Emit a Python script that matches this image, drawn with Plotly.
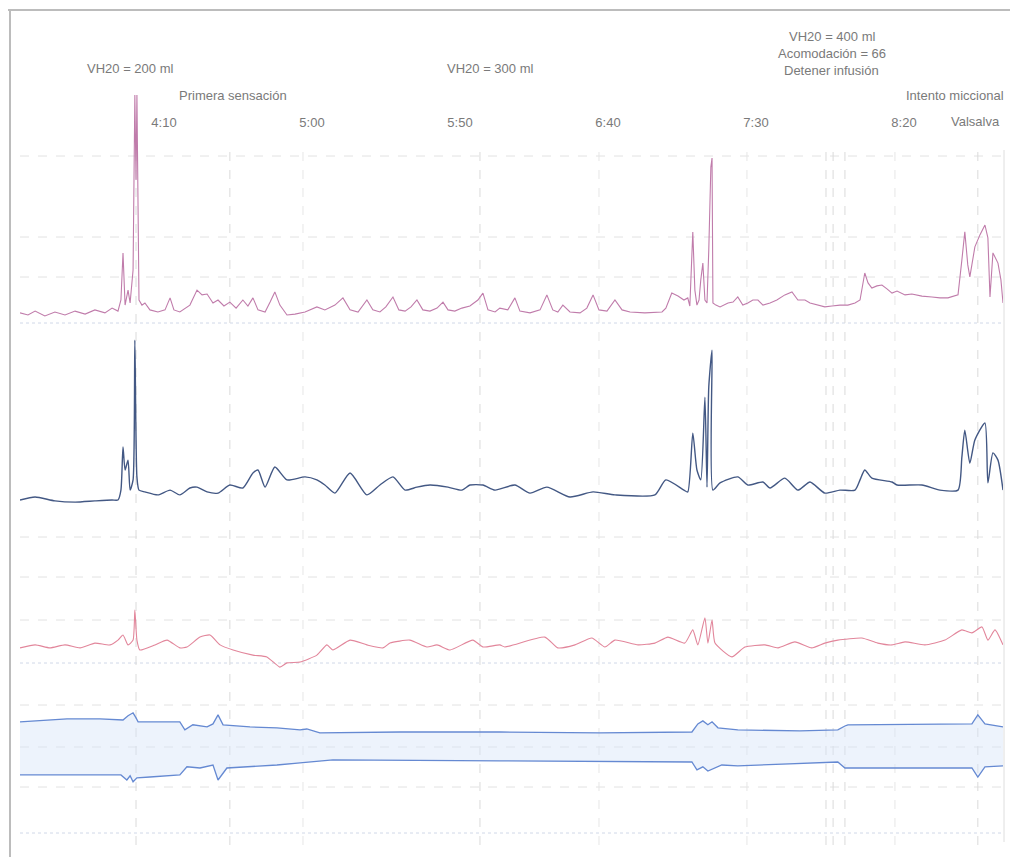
import plotly.graph_objects as go

# ---------------- data (time in s, pressures in cmH2O, EMG in arbitrary units) ----------------
TICK_T = [250, 300, 350, 400, 450, 500]
TICK_TEXT = ["4:10", "5:00", "5:50", "6:40", "7:30", "8:20"]

PVES = [(204.4, 5.7), (207.1, 5.0), (209.5, 6.3), (212.8, 4.7), (216.2, 6.0), (219.6, 5.0), (223.0, 6.3),
        (226.4, 5.3), (229.7, 6.7), (233.1, 5.7), (235.5, 7.3), (237.5, 6.3), (238.5, 10.0), (239.2, 25.7),
        (239.9, 8.3), (240.9, 13.3), (241.6, 9.0), (242.6, 20.0), (243.2, 78.3), (243.6, 50.0), (243.9, 78.3),
        (244.6, 10.0), (245.6, 8.3), (246.6, 9.0), (248.3, 6.7), (251.0, 6.0), (253.4, 6.7), (255.1, 10.7),
        (256.4, 6.7), (258.4, 6.0), (261.8, 8.3), (264.2, 13.3), (265.9, 11.7), (267.6, 12.0), (269.6, 9.0),
        (271.3, 10.0), (273.3, 8.0), (275.3, 9.3), (277.4, 7.3), (279.7, 10.0), (281.4, 8.0), (283.1, 10.7),
        (284.8, 6.7), (287.2, 6.0), (288.9, 9.3), (290.5, 12.7), (292.2, 8.3), (294.6, 5.0), (297.3, 5.3),
        (300.7, 6.0), (304.7, 7.7), (307.4, 6.7), (310.8, 8.3), (313.5, 10.7), (315.9, 6.7), (318.6, 6.0),
        (321.6, 10.0), (323.6, 6.7), (326.0, 6.0), (328.0, 7.7), (330.4, 11.0), (332.4, 6.7), (334.5, 6.3),
        (336.5, 7.7), (338.5, 10.0), (340.5, 6.7), (342.9, 6.3), (345.3, 7.3), (347.3, 9.3), (349.0, 6.7),
        (351.3, 6.3), (353.7, 7.3), (356.4, 8.0), (359.1, 10.0), (360.8, 12.3), (362.5, 6.7), (364.9, 6.0),
        (366.5, 7.3), (369.2, 6.7), (371.6, 10.7), (373.3, 6.3), (376.7, 5.7), (380.1, 6.7), (382.4, 11.7),
        (384.4, 6.7), (386.1, 6.0), (387.8, 8.3), (390.2, 6.0), (393.6, 5.7), (395.9, 7.3), (398.0, 11.7),
        (400.0, 6.7), (402.7, 6.3), (405.4, 10.0), (407.8, 6.7), (410.5, 6.0), (415.5, 5.7), (418.9, 6.0),
        (421.3, 6.0), (422.6, 7.3), (424.6, 12.3), (426.7, 11.3), (428.7, 10.0), (430.0, 10.7), (430.7, 8.0),
        (431.7, 32.7), (432.4, 13.3), (433.1, 8.3), (433.8, 10.0), (434.4, 16.7), (435.1, 22.3), (435.8, 10.0),
        (436.5, 9.0), (437.1, 26.7), (437.8, 54.3), (438.2, 57.3), (438.5, 9.0), (439.5, 8.3), (440.9, 7.7),
        (443.6, 9.0), (445.3, 9.3), (446.9, 11.0), (448.6, 8.3), (450.3, 9.0), (452.0, 10.0), (453.7, 10.0),
        (455.4, 8.3), (457.8, 9.0), (460.1, 10.0), (462.8, 11.7), (465.2, 12.7), (467.2, 10.0), (469.6, 10.0),
        (471.3, 9.0), (474.0, 8.3), (476.3, 7.7), (478.7, 8.0), (481.4, 8.3), (484.1, 8.3), (486.5, 9.0),
        (488.2, 10.0), (489.8, 19.0), (490.9, 15.7), (492.2, 14.0), (493.9, 14.7), (495.6, 15.0), (497.3, 13.7),
        (499.0, 12.3), (500.7, 13.0), (503.4, 11.7), (505.7, 12.0), (509.1, 11.3), (512.5, 11.0), (515.2, 10.7),
        (517.9, 10.7), (520.2, 11.3), (521.3, 11.7), (522.6, 23.3), (523.6, 32.7), (524.6, 21.7), (525.3, 17.7),
        (527.0, 27.7), (528.7, 31.7), (530.4, 35.0), (531.4, 30.7), (532.1, 11.0), (533.1, 25.7), (534.8, 22.3),
        (535.8, 16.7), (536.5, 9.0)]

PABD = [(204.4, 5.0), (209.5, 6.0), (216.2, 4.7), (223.0, 4.3), (229.7, 4.7), (235.5, 5.0), (237.5, 5.0),
        (238.5, 8.3), (239.2, 22.7), (239.9, 15.0), (240.9, 18.3), (241.6, 8.3), (242.6, 11.7), (243.2, 58.3),
        (243.9, 12.7), (244.6, 8.3), (246.6, 7.7), (251.0, 6.7), (255.1, 8.3), (258.4, 6.7), (261.8, 9.0),
        (264.2, 9.3), (267.6, 7.7), (271.3, 7.3), (275.3, 10.0), (279.7, 9.0), (283.1, 14.0), (284.8, 15.0),
        (287.2, 9.3), (290.5, 16.0), (294.6, 11.7), (300.7, 12.7), (304.7, 11.7), (307.4, 10.0), (310.8, 7.3),
        (315.9, 14.0), (321.6, 6.7), (326.0, 10.0), (330.4, 12.7), (334.5, 8.3), (338.5, 9.3), (342.9, 10.0),
        (349.0, 9.3), (353.7, 8.3), (356.4, 10.0), (360.8, 10.0), (364.9, 8.3), (371.6, 10.0), (376.7, 7.3),
        (382.4, 9.3), (390.2, 6.0), (398.0, 7.7), (405.4, 6.7), (418.9, 6.7), (422.6, 11.7), (428.7, 8.3),
        (430.0, 7.7), (431.7, 27.3), (433.1, 15.0), (434.4, 11.7), (435.8, 39.3), (436.5, 9.3), (437.1, 42.7),
        (438.2, 55.0), (438.5, 8.3), (440.9, 10.7), (446.9, 12.7), (450.3, 10.0), (455.4, 11.0), (457.8, 9.0),
        (462.8, 12.3), (467.2, 8.3), (471.3, 11.0), (476.3, 7.3), (481.4, 8.3), (486.5, 8.3), (488.2, 11.7),
        (489.8, 15.0), (492.2, 12.3), (499.0, 11.0), (500.7, 10.0), (509.1, 10.0), (515.2, 8.3), (521.3, 8.3),
        (522.6, 19.3), (523.6, 28.3), (525.3, 17.3), (527.0, 25.0), (530.4, 30.7), (531.4, 10.7), (533.1, 20.7),
        (534.8, 18.3), (536.5, 8.3)]

PDET = [(204.4, 0.7), (209.5, 1.7), (214.5, 0.7), (219.6, 1.7), (224.7, 0.7), (229.7, 2.3), (234.8, 1.7),
        (237.5, 3.3), (239.2, 5.0), (240.9, 1.7), (242.6, 3.3), (243.2, 13.3), (243.9, 3.3), (244.9, 0.0),
        (250.0, 1.7), (254.1, 3.3), (258.4, 0.7), (260.8, 1.0), (265.2, 4.3), (268.6, 5.0), (272.0, 1.7),
        (276.4, 0.0), (283.1, -1.7), (287.8, -2.3), (292.2, -5.7), (294.6, -4.3), (299.0, -4.0), (304.7, -1.7),
        (308.1, 1.7), (310.1, 0.0), (315.9, 3.3), (321.6, 1.7), (327.0, 0.7), (329.4, 2.3), (336.1, 3.3),
        (341.9, 1.0), (345.3, 1.7), (349.7, 0.0), (357.4, 3.3), (360.8, 1.0), (366.5, 1.7), (368.2, 1.0),
        (381.7, 4.3), (386.1, 0.7), (391.9, 1.7), (397.6, 4.0), (402.0, 1.0), (405.4, 3.3), (413.2, 1.7),
        (418.9, 2.3), (423.3, 4.3), (429.0, 2.3), (431.7, 6.7), (433.4, 1.7), (435.8, 10.7), (436.8, 2.3),
        (438.2, 10.0), (439.2, 2.3), (444.9, -2.3), (449.3, 1.0), (456.1, 1.7), (460.5, 0.7), (466.2, 2.7),
        (471.9, 0.7), (476.3, 2.3), (480.7, 3.3), (488.8, 4.0), (494.2, 2.3), (499.0, 1.7), (503.4, 2.7),
        (510.1, 1.7), (516.9, 3.3), (522.6, 6.7), (526.0, 5.7), (529.4, 7.7), (531.4, 3.3), (533.8, 6.7),
        (536.5, 1.7)]

EMG_UPPER = [(204.4, 7.7), (220.3, 8.7), (231.4, 8.7), (239.2, 8.3), (240.9, 9.7), (242.6, 10.7), (243.6, 9.0),
             (244.3, 7.7), (258.4, 7.7), (260.1, 5.0), (262.8, 6.7), (267.6, 6.0), (269.6, 7.0), (271.3, 10.0),
             (273.0, 6.7), (282.1, 6.0), (291.2, 5.7), (299.0, 5.0), (301.3, 5.3), (305.7, 4.0), (332.8, 4.3),
             (366.5, 4.3), (400.3, 4.0), (431.4, 4.3), (433.4, 7.0), (435.1, 8.0), (436.8, 6.7), (438.2, 7.7),
             (440.2, 5.7), (446.9, 5.0), (467.9, 4.7), (480.7, 5.0), (483.1, 6.3), (484.1, 6.7), (526.0, 7.0),
             (528.0, 10.0), (530.4, 7.0), (536.5, 6.0)]

EMG_LOWER = [(204.4, -10.0), (238.5, -10.0), (240.5, -11.7), (241.6, -10.3), (242.6, -12.3), (243.9, -11.0),
             (248.3, -10.7), (258.4, -10.0), (260.8, -7.3), (265.2, -7.7), (269.6, -6.7), (271.3, -11.7),
             (274.3, -7.7), (282.1, -7.3), (291.2, -6.7), (299.0, -6.0), (302.4, -5.7), (310.1, -5.0),
             (366.5, -5.3), (431.4, -5.7), (433.1, -8.3), (435.1, -7.3), (436.8, -8.7), (439.2, -7.7),
             (441.5, -6.7), (446.9, -7.0), (480.7, -5.7), (483.1, -7.7), (526.0, -7.7), (528.0, -10.7),
             (530.4, -7.3), (536.5, -7.0)]

EVENT_T = [243.6, 275.3, 359.8, 476.7, 479.1, 483.1, 528.0]
GRID_T = [300, 400, 450, 500]

# event labels: (time, text, pixel row)
EVENT_LABELS = [
    (241.6, "VH20 = 200 ml", 68),
    (276.4, "Primera sensación", 95),
    (363.2, "VH20 = 300 ml", 68),
    (478.7, "VH20 = 400 ml", 36),
    (478.7, "Acomodación = 66", 53),
    (478.7, "Detener infusión", 70),
    (520.3, "Intento miccional", 95),
    (527.3, "Valsalva", 122),
]

# ---------------- figure ----------------
W, H = 1010, 857
X_RANGE = [204.4, 536.5]
FONT = "Liberation Sans, Arial, sans-serif"
TXT_COL = "#7a7a7a"


def py(p):
    return 1 - p / H


fig = go.Figure()


def unzip(pairs):
    return [a for a, _ in pairs], [b for _, b in pairs]


t, v = unzip(PVES)
fig.add_trace(go.Scatter(x=t, y=v, mode="lines", line=dict(color="#c07cab", width=1.1),
                         xaxis="x", yaxis="y", hoverinfo="skip"))
t, v = unzip(PABD)
fig.add_trace(go.Scatter(x=t, y=v, mode="lines",
                         line=dict(color="#435884", width=1.4, shape="spline", smoothing=0.6),
                         xaxis="x", yaxis="y2", hoverinfo="skip"))
t, v = unzip(PDET)
fig.add_trace(go.Scatter(x=t, y=v, mode="lines",
                         line=dict(color="#e2869b", width=1.1, shape="spline", smoothing=0.5),
                         xaxis="x", yaxis="y3", hoverinfo="skip"))
t, v = unzip(EMG_LOWER)
fig.add_trace(go.Scatter(x=t, y=v, mode="lines", line=dict(color="#6589d2", width=1.3),
                         xaxis="x", yaxis="y4", hoverinfo="skip"))
t, v = unzip(EMG_UPPER)
fig.add_trace(go.Scatter(x=t, y=v, mode="lines", line=dict(color="#6589d2", width=1.3),
                         fill="tonexty", fillcolor="rgba(214,228,248,0.45)",
                         xaxis="x", yaxis="y4", hoverinfo="skip"))
# carrier for the top time axis
fig.add_trace(go.Scatter(x=[TICK_T[0]], y=[0], mode="markers", marker=dict(opacity=0),
                         xaxis="x2", yaxis="y", hoverinfo="skip", showlegend=False))

shapes = []
# outer frame
shapes.append(dict(type="line", xref="paper", yref="paper", x0=8 / W, x1=1.0, y0=py(10), y1=py(10),
                   line=dict(color="#bcbcbc", width=2)))
shapes.append(dict(type="line", xref="paper", yref="paper", x0=10 / W, x1=10 / W, y0=py(10), y1=0,
                   line=dict(color="#bcbcbc", width=2)))
shapes.append(dict(type="line", xref="paper", yref="paper", x0=1004 / W, x1=1004 / W, y0=py(150), y1=py(842),
                   line=dict(color="#dedede", width=1)))
# horizontal grid
for p in [156, 237, 277, 537, 577, 620, 705, 747, 787]:
    shapes.append(dict(type="line", xref="paper", yref="paper", x0=20 / W, x1=1003 / W, y0=py(p), y1=py(p),
                       line=dict(color="#e2e2e2", width=1, dash="dash"), layer="below"))
for p in [323, 663, 833]:
    shapes.append(dict(type="line", xref="paper", yref="paper", x0=20 / W, x1=1003 / W, y0=py(p), y1=py(p),
                       line=dict(color="#d0d8e8", width=1, dash="dot"), layer="below"))
# vertical grid and event markers
for tt in GRID_T:
    shapes.append(dict(type="line", xref="x", yref="paper", x0=tt, x1=tt, y0=py(845), y1=py(150),
                       line=dict(color="#e6e6e6", width=1, dash="dash"), layer="below"))
for tt in EVENT_T:
    shapes.append(dict(type="line", xref="x", yref="paper", x0=tt, x1=tt, y0=py(845), y1=py(150),
                       line=dict(color="#dadada", width=1, dash="dash"), layer="below"))

annotations = []
for tt, txt, row in EVENT_LABELS:
    annotations.append(dict(x=tt, y=py(row), xref="x", yref="paper", text=txt, showarrow=False,
                            xanchor="center", yanchor="middle",
                            font=dict(family=FONT, size=13, color=TXT_COL)))

hidden_y = dict(visible=False, fixedrange=True)
fig.update_layout(
    width=W, height=H, margin=dict(l=0, r=0, t=0, b=0),
    paper_bgcolor="white", plot_bgcolor="rgba(0,0,0,0)", showlegend=False,
    xaxis=dict(domain=[20 / W, 1003 / W], range=X_RANGE, visible=False, anchor="y4"),
    xaxis2=dict(overlaying="x", range=X_RANGE, side="top", anchor="free", position=py(130),
                tickvals=TICK_T, ticktext=TICK_TEXT, ticks="", showgrid=False, showline=False,
                zeroline=False, ticklabelshift=9,
                tickfont=dict(family=FONT, size=13, color=TXT_COL)),
    yaxis=dict(domain=[py(330), py(90)], range=[0, 80], anchor="x", **hidden_y),
    yaxis2=dict(domain=[py(515), py(330)], range=[0, 61.7], anchor="x", **hidden_y),
    yaxis3=dict(domain=[py(680), py(530)], range=[-10, 40], anchor="x", **hidden_y),
    yaxis4=dict(domain=[py(846), py(690)], range=[-33.7, 18.3], anchor="x", **hidden_y),
    shapes=shapes, annotations=annotations,
)

fig.write_html("out.html", config={"displayModeBar": False},
               post_script="document.body.style.margin='0';document.body.style.overflow='hidden';")
